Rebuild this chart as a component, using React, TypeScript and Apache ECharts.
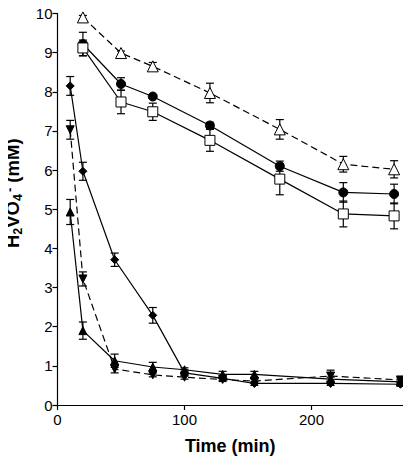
import React, { useEffect, useRef } from "react";
import * as echarts from "echarts";

const FONT = "'Liberation Sans', Arial, Helvetica, sans-serif";

// Upper group (x in min)
const upperTime = [20, 50, 75, 120, 175, 225, 265];
const openTriangle = [9.9, 8.99, 8.65, 7.97, 7.04, 6.15, 6.02];
const openTriangleErr = [0.05, 0.05, 0.1, 0.25, 0.25, 0.2, 0.22];
const filledCircle = [9.22, 8.2, 7.88, 7.14, 6.1, 5.43, 5.39];
const filledCircleErr = [0.3, 0.16, 0.05, 0.08, 0.13, 0.25, 0.25];
const openSquare = [9.12, 7.74, 7.49, 6.76, 5.77, 4.88, 4.83];
const openSquareErr = [0.2, 0.3, 0.22, 0.28, 0.4, 0.33, 0.33];

// Lower group
const lowerTime = [10, 20, 45, 75, 100, 130, 155, 215, 270];
const diamond = [8.15, 5.97, 3.71, 2.29, 0.82, 0.68, 0.55, 0.55, 0.53];
const diamondErr = [0.24, 0.23, 0.17, 0.2, 0.08, 0.05, 0.05, 0.05, 0.05];
const triUp = [4.93, 1.9, 1.13, 0.97, 0.9, 0.78, 0.78, 0.66, 0.59];
const triUpErr = [0.32, 0.22, 0.17, 0.12, 0.05, 0.08, 0.08, 0.05, 0.05];
const triDown = [7.03, 3.22, 0.92, 0.77, 0.71, 0.65, 0.61, 0.74, 0.64];
const triDownErr = [0.24, 0.18, 0.1, 0.05, 0.05, 0.05, 0.05, 0.15, 0.05];

const xTicks = [0, 100, 200];

function pairs(xs: number[], ys: number[]) {
  return xs.map((x, i) => [x, ys[i]]);
}
function triples(xs: number[], ys: number[], es: number[]) {
  return xs.map((x, i) => [x, ys[i], es[i]]);
}

function errSeries(xs: number[], ys: number[], es: number[]) {
  return {
    type: "custom",
    z: 1,
    silent: true,
    data: triples(xs, ys, es),
    renderItem: (params: any, api: any) => {
      const x = api.value(0);
      const y = api.value(1);
      const e = api.value(2);
      const top = api.coord([x, y + e]);
      const bot = api.coord([x, y - e]);
      const w = 4;
      const style = { stroke: "#000", lineWidth: 1.2 };
      return {
        type: "group",
        children: [
          { type: "line", shape: { x1: top[0], y1: top[1], x2: bot[0], y2: bot[1] }, style },
          { type: "line", shape: { x1: top[0] - w, y1: top[1], x2: top[0] + w, y2: top[1] }, style },
          { type: "line", shape: { x1: bot[0] - w, y1: bot[1], x2: bot[0] + w, y2: bot[1] }, style },
        ],
      };
    },
  };
}

function lineSeries(
  xs: number[],
  ys: number[],
  symbol: string,
  size: number,
  open: boolean,
  dashed: boolean
) {
  return {
    type: "line",
    z: 3,
    data: pairs(xs, ys),
    symbol,
    symbolSize: size,
    showAllSymbol: true,
    lineStyle: { color: "#000", width: 1.2, type: dashed ? [7, 4] : "solid" },
    itemStyle: {
      color: open ? "#fff" : "#000",
      borderColor: "#000",
      borderWidth: 1,
    },
  };
}

export default function App() {
  const ref = useRef<HTMLDivElement>(null);
  useEffect(() => {
    if (!ref.current) return;
    const chart = echarts.init(ref.current, null, { renderer: "svg" });
    chart.setOption({
      animation: false,
      backgroundColor: "#fff",
      grid: {
        left: 57.5,
        right: 8,
        top: 13.5,
        bottom: 61,
        containLabel: false,
        outerBoundsMode: "none",
      },
      xAxis: {
        type: "value",
        min: 0,
        max: 272,
        interval: 100,
        name: "Time (min)",
        nameLocation: "middle",
        nameGap: 32,
        nameTextStyle: { fontFamily: FONT, fontSize: 18, fontWeight: "bold", color: "#000" },
        axisLine: { show: true, onZero: false, lineStyle: { color: "#000", width: 1.2 } },
        axisTick: { show: true, length: 5, customValues: xTicks, lineStyle: { color: "#000", width: 1.2 } },
        axisLabel: { customValues: xTicks, fontFamily: FONT, fontSize: 15, color: "#000", margin: 7 },
        splitLine: { show: false },
      },
      yAxis: {
        type: "value",
        min: 0,
        max: 10,
        interval: 1,
        name: "{b|H}{s|2}{b|VO}{s|4}{p|-}{b| (mM)}",
        nameLocation: "middle",
        nameRotate: 90,
        nameGap: 31,
        nameTextStyle: {
          color: "#000",
          padding: [0, 0, 0, 32],
          rich: {
            b: { fontFamily: FONT, fontSize: 18.5, fontWeight: "bold", color: "#000", lineHeight: 24 },
            s: { fontFamily: FONT, fontSize: 12.5, fontWeight: "bold", color: "#000", lineHeight: 24, verticalAlign: "bottom" },
            p: { fontFamily: FONT, fontSize: 13, fontWeight: "bold", color: "#000", lineHeight: 24, verticalAlign: "top", padding: [2, 0, 0, 2] },
          },
        },
        axisLine: { show: true, lineStyle: { color: "#000", width: 1.2 } },
        axisTick: { show: true, length: 5, lineStyle: { color: "#000", width: 1.2 } },
        axisLabel: { fontFamily: FONT, fontSize: 15, color: "#000", margin: 5 },
        splitLine: { show: false },
      },
      series: [
        errSeries(upperTime, openTriangle, openTriangleErr),
        errSeries(upperTime, filledCircle, filledCircleErr),
        errSeries(upperTime, openSquare, openSquareErr),
        errSeries(lowerTime, diamond, diamondErr),
        errSeries(lowerTime, triUp, triUpErr),
        errSeries(lowerTime, triDown, triDownErr),
        lineSeries(upperTime, openTriangle, "triangle", 11, true, true),
        lineSeries(upperTime, filledCircle, "circle", 9, false, false),
        lineSeries(upperTime, openSquare, "rect", 10, true, false),
        lineSeries(lowerTime, diamond, "diamond", 8, false, false),
        lineSeries(lowerTime, triUp, "triangle", 8, false, false),
        lineSeries(lowerTime, triDown, "path://M0,0L10,0L5,9Z", 8, false, true),
      ],
    });
    return () => chart.dispose();
  }, []);
  return <div ref={ref} style={{ width: 411, height: 466, margin: -8 }} />;
}
